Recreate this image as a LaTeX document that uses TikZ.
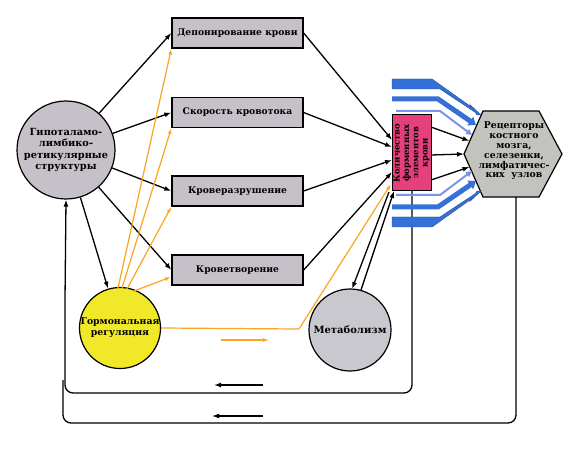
\documentclass[tikz,border=0pt]{standalone}
\usepackage{fontspec}
\setmainfont{DejaVu Serif}
\usetikzlibrary{arrows.meta,calc}
\definecolor{boxgray}{RGB}{198,192,200}
\definecolor{metgray}{RGB}{200,200,206}
\definecolor{hexgray}{RGB}{194,194,190}
\definecolor{pinkc}{RGB}{228,64,124}
\definecolor{yelc}{RGB}{240,232,40}
\definecolor{bluec}{RGB}{52,112,216}
\definecolor{lblue}{RGB}{120,150,230}
\definecolor{orc}{RGB}{250,165,35}
\begin{document}
\begin{tikzpicture}[x=1pt,y=-1pt,
  box/.style={draw, line width=1.3pt, fill=boxgray, minimum width=131pt, minimum height=30pt, inner sep=0pt, font=\bfseries\fontsize{9.2}{11}\selectfont},
  circ/.style={draw, line width=1.2pt, circle, inner sep=0pt, align=center},
  arr/.style={line width=1.3pt, -{Latex[length=7pt,width=5pt]}},
  oarr/.style={orc, line width=1.2pt, -{Latex[length=6pt,width=4pt]}},
  fb/.style={line width=1.3pt, rounded corners=8pt},
  bluebig/.style={fill=bluec, draw=bluec!70!black, line width=0.4pt},
  bluemid/.style={bluec, line width=5pt, line join=miter, -{Triangle[length=7pt,width=10pt]}},
  bluethin/.style={lblue, line width=2pt, -{Triangle[length=6pt,width=6pt]}}]
\useasboundingbox (0,0) rectangle (581,449);
\fill[white] (0,0) rectangle (581,449);

% nodes
\node[circ, fill=boxgray, minimum size=98pt, font=\bfseries\fontsize{9.8}{11.2}\selectfont] (hyp) at (66,150) {Гипоталамо-\\лимбико-\\ретикулярные\\структуры};
\node[box] (b1) at (237.5,33) {Депонирование крови};
\node[box] (b2) at (237.5,112.5) {Скорость кровотока};
\node[box] (b3) at (237.5,191) {Кроверазрушение};
\node[box] (b4) at (237.5,270) {Кроветворение};
\node[circ, fill=yelc, minimum size=80pt, font=\bfseries\fontsize{9.3}{11}\selectfont] (yel) at (120,328) {Гормональная\\регуляция};
\node[circ, fill=metgray, minimum size=82pt, font=\bfseries\fontsize{10}{12}\selectfont] (met) at (350,330) {Метаболизм};

% feedback lines (drawn before blue bands)
\coordinate (pb) at (412,191);
\coordinate (hb) at (516,197);
\draw[fb] (pb) -- (412,393) -- (65,393) -- (65,300);
\draw[fb] (hb) -- (516,423) -- (63,423) -- (63,380);
\draw[arr] (65,300) -- (hyp.south);
\draw[arr] (263,385) -- (214,385);
\draw[arr] (263,416) -- (212,416);

% pink box
\node[draw, line width=1pt, fill=pinkc, minimum width=39pt, minimum height=76pt, inner sep=0pt] (pink) at (411.5,153) {};
\node[rotate=90, align=center, font=\bfseries\fontsize{8.4}{9.3}\selectfont] (pinktxt) at (411.5,153) {Количество\\форменных\\элементов\\крови};

% hexagon
\draw[line width=1.2pt, fill=hexgray] (464,154) -- (483,111) -- (539,111) -- (562,154) -- (539,197) -- (483,197) -- cycle;
\node[align=center, font=\bfseries\fontsize{9.3}{9.8}\selectfont] (hex) at (514,151) {Рецепторы\\костного\\мозга,\\селезенки,\\лимфатичес-\\ких\ \ узлов};

% blue bands
\fill[bluebig] (392,79) -- (432,79) -- (471.9,107.4) -- (470.2,104.9) -- (481,115) -- (477,114.9) -- (475.3,112.4) -- (440,89) -- (392,89) -- cycle;
\fill[bluebig] (392,227) -- (432,227) -- (471.9,198.6) -- (470.2,201.1) -- (481,191) -- (477,191.1) -- (475.3,193.6) -- (440,217) -- (392,217) -- cycle;
\draw[bluemid] (392,99) -- (438,99) -- (476,125);
\draw[bluemid] (392,207) -- (438,207) -- (476,181);
\draw[bluethin] (396,111) -- (440,111) -- (472,135);
\draw[bluethin] (396,195) -- (440,195) -- (472,171);

% pink -> hexagon
\draw[arr] (431,127) -- (469.5,141);
\draw[arr] (431,155) -- (464,154);
\draw[arr] (431,180) -- (469.5,167);

% hypothalamus -> boxes
\draw[arr] (hyp) -- (b1.west);
\draw[arr] (hyp) -- (b2.west);
\draw[arr] (hyp) -- (b3.west);
\draw[arr] (hyp) -- (b4.west);
\draw[arr] (hyp) -- (yel);

% boxes -> pink
\coordinate (p1) at (392,140);
\coordinate (p2) at (392,147);
\coordinate (p3) at (392,160);
\coordinate (p4) at (392,172);
\draw[arr] (b1.east) -- (p1);
\draw[arr] (b2.east) -- (p2);
\draw[arr] (b3.east) -- (p3);
\draw[arr] (b4.east) -- (p4);

% metabolism <-> pink
\draw[arr] (389,192) -- (352,289);
\draw[arr] (361,290) -- (394,191);

% orange
\draw[oarr] (118,288) -- (b1.south west);
\draw[oarr] (122,288) -- (b2.south west);
\draw[oarr] (127,289) -- (b3.south west);
\draw[oarr] (134,291) -- (171,277);
\draw[oarr] (yel.east) -- (299,329) -- (391,184);
\draw[oarr, line width=1.4pt] (221,340) -- (269,340);
\end{tikzpicture}
\end{document}
